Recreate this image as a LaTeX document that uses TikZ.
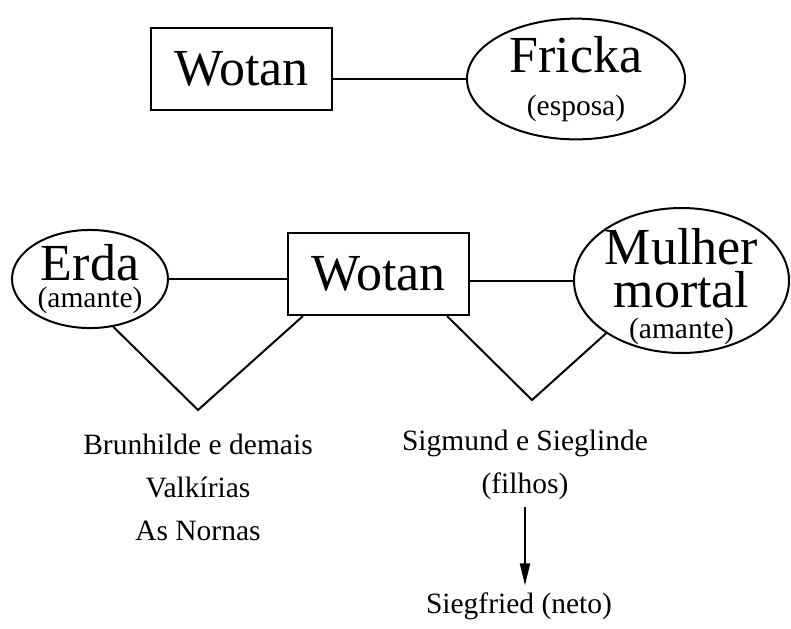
\documentclass[tikz,border=0pt]{standalone}
\usepackage{fontspec}
\setmainfont{Liberation Serif}
\usepackage{tikz}
\usetikzlibrary{arrows.meta,shapes.geometric}
\newcommand{\grande}{\fontsize{26}{21.5}\selectfont}
\newcommand{\pequeno}{\fontsize{14.75}{17}\selectfont}

\begin{document}
\begin{tikzpicture}[
    x=0.5pt, y=-0.5pt,
    every node/.style={font=\pequeno},
    deus/.style={draw, rectangle, line width=1pt, minimum width=90.5pt, minimum height=41pt, font=\grande},
    mulher/.style={draw, ellipse, line width=1pt, inner sep=0pt, align=center, font=\grande},
    prole/.style={align=center, font=\fontsize{14.75}{21.5}\selectfont}
]
\useasboundingbox (0,0) rectangle (791,628);

% Casamento
\node (wotanA) [deus] at (241.5,69) {Wotan};
\node (fricka) [mulher, minimum width=109pt, minimum height=60pt] at (576,79) {Fricka\\{\pequeno (esposa)}};
\draw [line width=1pt] (fricka.west) -- (fricka.west -| wotanA.east);

% Amantes
\node (wotanB) [deus] at (378.5,274) {Wotan};
\node (erda) [mulher, minimum width=78pt, minimum height=49pt] at (90,279) {Erda\\[-8pt]{\pequeno (amante)}};
\node (mortal) [mulher, inner sep=-7pt, minimum width=107.5pt, minimum height=72.5pt] at (681.5,280.5) {\rule{0pt}{24.5pt}Mulher\\mortal\\[-6pt]{\pequeno (amante)}};
\draw [line width=1pt] (erda.east) -- (erda.east -| wotanB.west);
\draw [line width=1pt] (wotanB.east |- mortal.west) -- (mortal.west);

% Descendencia
\coordinate (vErda) at (198,410);
\coordinate (vMortal) at (532,400);
\draw [line width=1pt] (erda.-64) -- (vErda) -- ([xshift=8pt]wotanB.south west);
\draw [line width=1pt] ([xshift=-11.5pt]wotanB.south east) -- (vMortal) -- (mortal.215);

\node (valquirias) [prole] at (198,487) {Brunhilde e demais\\Valkírias\\As Nornas};
\node (filhos) [prole] at (525,465) {Sigmund e Sieglinde\\(filhos)};
\node (neto) at (519,606) {Siegfried (neto)};
\draw [-{Triangle[length=11pt,width=5pt]}, line width=1pt] (filhos.south) -- (filhos.south |- neto.north);
\end{tikzpicture}
\end{document}
